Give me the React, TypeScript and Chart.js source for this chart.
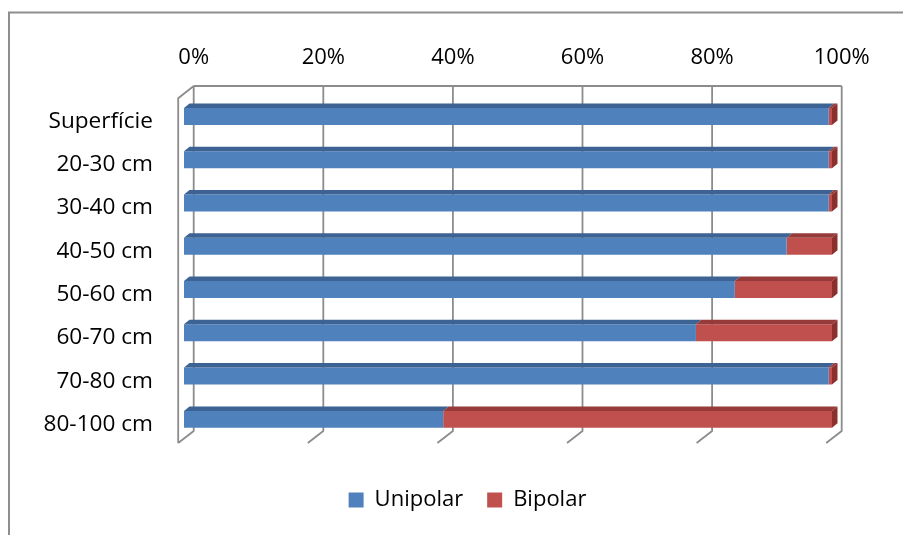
import { useEffect, useRef } from 'react';
import { Chart, registerables } from 'chart.js';

Chart.register(...registerables);

// Soil depth layers and the share of each type (percent of the layer total)
const depthLabels = ['Superfície', '20-30 cm', '30-40 cm', '40-50 cm', '50-60 cm', '60-70 cm', '70-80 cm', '80-100 cm'];
const unipolar = [99.5, 99.5, 99.5, 93, 85, 79, 99.5, 40];
const bipolar = [0.5, 0.5, 0.5, 7, 15, 21, 0.5, 60];
const seriesNames = ['Unipolar', 'Bipolar'];

const frontColors = ['#4f81bd', '#c0504d'];
const topColors = ['#3c6393', '#963b39'];
const sideColors = ['#34598a', '#8c302e'];
const wallColor = '#8c8c8c';
const fontFamily = "'Open Sans', 'Noto Sans', sans-serif";

// Depth of the box behind the bars and of the bars themselves
const WALL_BACK = 9.7;
const WALL_FRONT = -5.8;
const BAR_DX = 5.5;
const BAR_DY = -4.5;

const depthFrame = {
  id: 'depthFrame',
  beforeDraw(chart: any) {
    const { ctx, width, height } = chart;
    ctx.save();
    ctx.fillStyle = '#ffffff';
    ctx.fillRect(0, 0, width, height);
    ctx.strokeStyle = '#8e8e8e';
    ctx.lineWidth = 2;
    ctx.strokeRect(9, 12.5, width + 40, height + 40);
    ctx.restore();
  },
  beforeDatasetsDraw(chart: any) {
    const { ctx, chartArea } = chart;
    const x = chart.scales.x;
    const backTop = chartArea.top - 8.8;
    const backBottom = chartArea.bottom - 10;
    const frontTop = chartArea.top + 3.5;
    const frontBottom = chartArea.bottom + 2;
    const p0 = x.getPixelForValue(x.min);
    const p1 = x.getPixelForValue(x.max);
    ctx.save();
    ctx.strokeStyle = wallColor;
    ctx.lineWidth = 1.8;
    ctx.lineJoin = 'round';
    ctx.beginPath();
    // back wall top edge
    ctx.moveTo(p0 + WALL_BACK, backTop);
    ctx.lineTo(p1 + WALL_BACK, backTop);
    // vertical grid lines with their floor edge
    x.ticks.forEach((t: any) => {
      const px = x.getPixelForValue(t.value);
      ctx.moveTo(px + WALL_BACK, backTop);
      ctx.lineTo(px + WALL_BACK, backBottom);
      ctx.lineTo(px + WALL_FRONT, frontBottom);
    });
    // side wall
    ctx.moveTo(p0 + WALL_BACK, backTop);
    ctx.lineTo(p0 + WALL_FRONT, frontTop);
    ctx.lineTo(p0 + WALL_FRONT, frontBottom);
    ctx.stroke();
    ctx.restore();
  },
  afterDatasetsDraw(chart: any) {
    const { ctx } = chart;
    const count = chart.data.datasets.length;
    ctx.save();
    for (let i = 0; i < count; i++) {
      const meta = chart.getDatasetMeta(i);
      meta.data.forEach((bar: any) => {
        const { x, y, base, height } = bar.getProps(['x', 'y', 'base', 'height'], true);
        const left = Math.min(x, base);
        const right = Math.max(x, base);
        const top = y - height / 2;
        const bottom = y + height / 2;
        if (right - left <= 0) return;
        ctx.fillStyle = topColors[i];
        ctx.beginPath();
        ctx.moveTo(left, top);
        ctx.lineTo(right, top);
        ctx.lineTo(right + BAR_DX, top + BAR_DY);
        ctx.lineTo(left + BAR_DX, top + BAR_DY);
        ctx.closePath();
        ctx.fill();
        if (i === count - 1) {
          ctx.fillStyle = sideColors[i];
          ctx.beginPath();
          ctx.moveTo(right, top);
          ctx.lineTo(right + BAR_DX, top + BAR_DY);
          ctx.lineTo(right + BAR_DX, bottom + BAR_DY);
          ctx.lineTo(right, bottom);
          ctx.closePath();
          ctx.fill();
        }
      });
    }
    ctx.restore();
  },
};

export default function App() {
  const canvasRef = useRef<HTMLCanvasElement | null>(null);

  useEffect(() => {
    const canvas = canvasRef.current;
    if (!canvas) return;
    const chart = new Chart(canvas, {
      type: 'bar',
      data: {
        labels: depthLabels,
        datasets: [
          { label: seriesNames[0], data: unipolar, backgroundColor: frontColors[0], borderWidth: 0, barPercentage: 0.392, categoryPercentage: 1 },
          { label: seriesNames[1], data: bipolar, backgroundColor: frontColors[1], borderWidth: 0, barPercentage: 0.392, categoryPercentage: 1 },
        ],
      },
      options: {
        indexAxis: 'y',
        responsive: false,
        animation: false,
        color: '#000',
        layout: { padding: { top: 0, left: 32, right: 0, bottom: 14 } },
        scales: {
          x: {
            type: 'linear',
            position: 'top',
            stacked: true,
            min: 0,
            max: 100,
            grid: { display: false, drawTicks: false },
            border: { display: false },
            ticks: {
              stepSize: 20,
              padding: 24.2,
              labelOffset: 9.7,
              color: '#000',
              font: { family: fontFamily, size: 22 },
              callback: (v: any) => v + '%',
            },
            afterFit: (s: any) => { s.height = 94.8; },
          },
          y: {
            type: 'category',
            position: 'left',
            stacked: true,
            grid: { display: false, drawTicks: false },
            border: { display: false },
            ticks: {
              padding: 31,
              labelOffset: 5,
              color: '#000',
              font: { family: fontFamily, size: 22.6 },
            },
            afterFit: (s: any) => { s.width = 152; },
          },
          yEnd: {
            type: 'linear',
            position: 'right',
            grid: { display: false, drawTicks: false },
            border: { display: false },
            ticks: { display: false },
            afterFit: (s: any) => { s.width = 71; },
          },
        },
        plugins: {
          tooltip: { enabled: false },
          legend: {
            position: 'bottom',
            title: { display: true, text: '', padding: { top: 22.8, bottom: 0 }, font: { size: 1 } },
            labels: {
              boxWidth: 15,
              boxHeight: 15,
              padding: 24,
              color: '#000',
              font: { family: fontFamily, size: 22 },
            },
          },
        },
      },
      plugins: [depthFrame],
    });
    return () => chart.destroy();
  }, []);

  return (
    <div style={{ position: 'fixed', left: 0, top: 0, width: 903, height: 535, background: '#fff' }}>
      <canvas ref={canvasRef} width={903} height={535} style={{ display: 'block' }} />
    </div>
  );
}
